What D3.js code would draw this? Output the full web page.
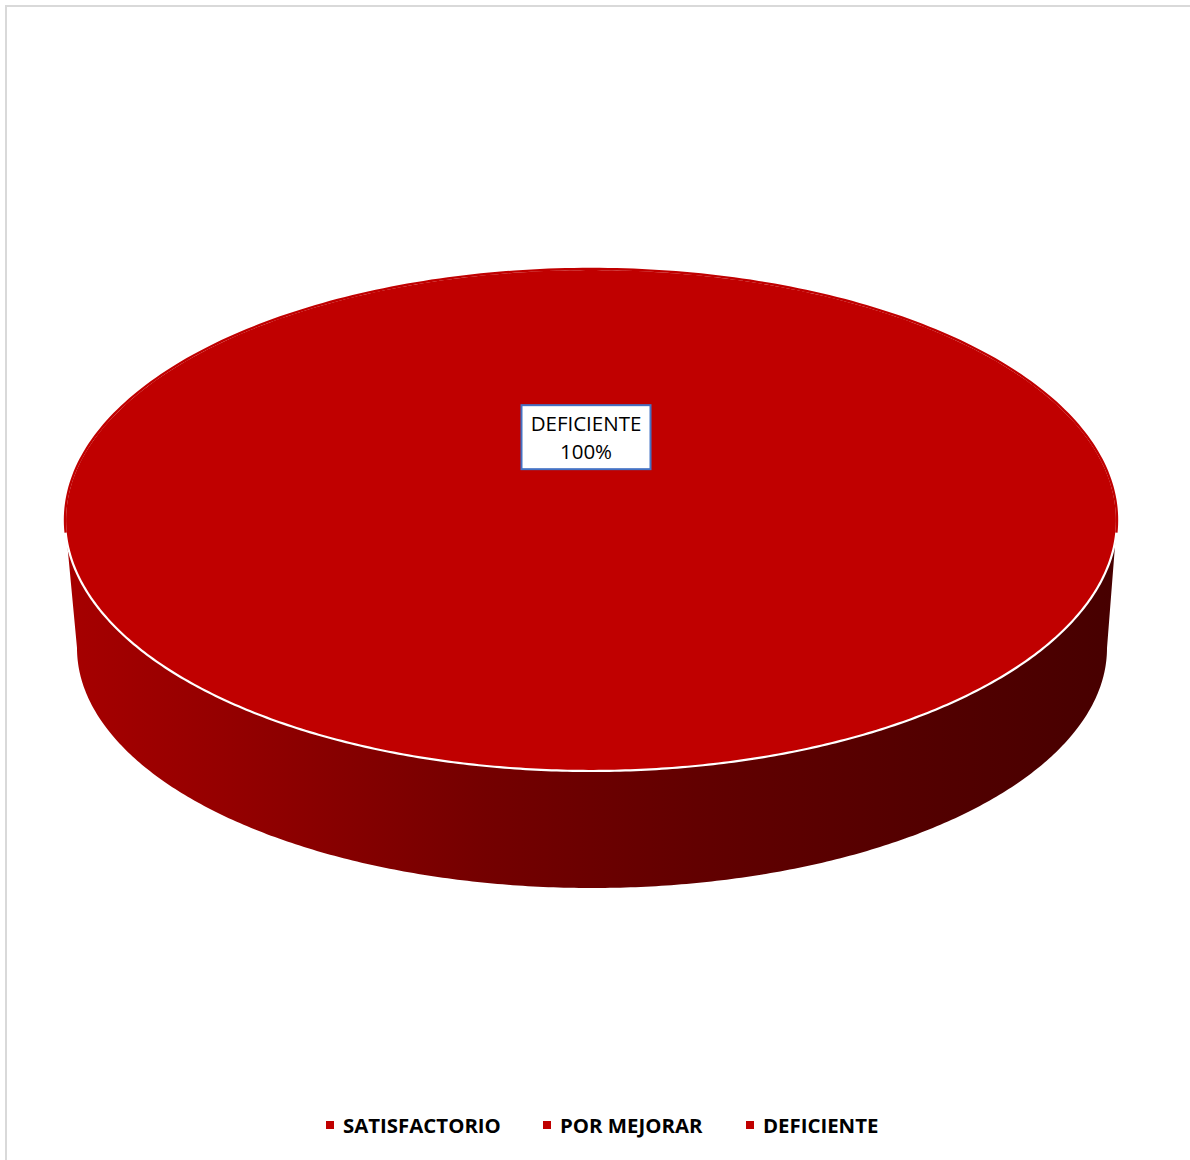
<!DOCTYPE html>
<html>
<head>
<meta charset="utf-8">
<script src="https://cdn.jsdelivr.net/npm/d3@7/dist/d3.min.js"></script>
<style>
  html, body { margin: 0; padding: 0; background: #fff; }
  svg { display: block; }
</style>
</head>
<body>
<svg id="chart" width="1190" height="1160"></svg>
<script>
// Evaluation results
const categories = ["SATISFACTORIO", "POR MEJORAR", "DEFICIENTE"];
const values = [0, 0, 100];
const sliceColors = ["#C00000", "#C00000", "#C00000"];

const W = 1190, H = 1160;
const svg = d3.select("#chart");

// Chart frame
svg.append("rect")
  .attr("x", 6).attr("y", 6)
  .attr("width", W + 10).attr("height", H + 10)
  .attr("fill", "#fff").attr("stroke", "#d9d9d9").attr("stroke-width", 2);

// Tilted pie geometry: top face and a slightly narrower bottom face
const topFace = { cx: 591, cy: 520, rx: 526, ry: 251 };
const botFace = { cx: 592, cy: 648, rx: 515, ry: 240 };

const pie = d3.pie().sort(null).value(d => d)(values);
const total = d3.sum(values);

// Gradient on the pie wall
const defs = svg.append("defs");
const grad = defs.append("linearGradient").attr("id", "wall")
  .attr("x1", "0%").attr("x2", "100%").attr("y1", "0%").attr("y2", "0%");
[[0, "#a60000"], [0.15, "#950000"], [0.4, "#740000"], [0.6, "#620000"], [0.8, "#540000"], [1, "#470000"]]
  .forEach(([o, c]) => grad.append("stop").attr("offset", o).attr("stop-color", c));

// angle a measured from 12 o'clock clockwise (d3.pie convention), projected onto ellipse e
const pt = (e, a) => [e.cx + e.rx * Math.sin(a), e.cy - e.ry * Math.cos(a)];

function facePath(e, a0, a1) {
  const n = Math.max(2, Math.ceil((a1 - a0) / 0.01));
  const pts = d3.range(n + 1).map(i => pt(e, a0 + (a1 - a0) * i / n));
  const full = (a1 - a0) >= 2 * Math.PI - 1e-6;
  return (full ? "M" : "M" + [e.cx, e.cy] + "L") + pts.map(p => p.join(",")).join("L") + "Z";
}

// Visible wall: front half, from 3 o'clock (PI/2) to 9 o'clock (3PI/2), clipped to each slice
function wallPath(a0, a1) {
  const s = Math.max(a0, Math.PI / 2), t = Math.min(a1, 3 * Math.PI / 2);
  if (t <= s) return null;
  const n = Math.ceil((t - s) / 0.01);
  const upper = d3.range(n + 1).map(i => pt(topFace, s + (t - s) * i / n));
  const lower = d3.range(n + 1).map(i => pt(botFace, t - (t - s) * i / n));
  return "M" + upper.concat(lower).map(p => p.join(",")).join("L") + "Z";
}

const slices = pie.filter(d => d.value > 0);

// Walls
svg.append("g").selectAll("path")
  .data(slices)
  .join("path")
  .attr("d", d => wallPath(d.startAngle, d.endAngle))
  .attr("fill", "url(#wall)");

// Top faces
svg.append("g").selectAll("path")
  .data(slices)
  .join("path")
  .attr("d", d => facePath(topFace, d.startAngle, d.endAngle))
  .attr("fill", d => sliceColors[d.index])
  .attr("stroke", "#fff").attr("stroke-width", 2.2);

// Cover the back rim so only the front edge shows a white outline
svg.append("path")
  .attr("d", (() => {
    const n = 200;
    const pts = d3.range(n + 1).map(i => pt(topFace, -Math.PI / 2 - 0.05 + (Math.PI + 0.1) * i / n));
    return "M" + pts.map(p => p.join(",")).join("L");
  })())
  .attr("fill", "none").attr("stroke", "#C00000").attr("stroke-width", 2.4);

// Data labels
const pct = d3.format(".0%");
const lab = svg.append("g").selectAll("g")
  .data(slices)
  .join("g")
  .attr("transform", d => {
    const mid = (d.startAngle + d.endAngle) / 2;
    const full = (d.endAngle - d.startAngle) >= 2 * Math.PI - 1e-6;
    const p = full ? [topFace.cx - 5, topFace.cy - 0.33 * topFace.ry]
                   : pt({ ...topFace, rx: topFace.rx * 0.6, ry: topFace.ry * 0.6 }, mid);
    return `translate(${p[0]},${p[1]})`;
  });
lab.append("rect")
  .attr("x", -64.5).attr("y", -32).attr("width", 129).attr("height", 64)
  .attr("fill", "#fff").attr("stroke", "#4472C4").attr("stroke-width", 2);
lab.append("text")
  .attr("text-anchor", "middle").attr("y", -6)
  .attr("font-family", "'Open Sans', 'Noto Sans', sans-serif").attr("font-size", 20.5)
  .attr("fill", "#000")
  .text(d => categories[d.index]);
lab.append("text")
  .attr("text-anchor", "middle").attr("y", 22)
  .attr("font-family", "'Open Sans', 'Noto Sans', sans-serif").attr("font-size", 20.5)
  .attr("fill", "#000")
  .text(d => pct(d.value / total));

// Legend
const legendX = [326, 543, 746];
const leg = svg.append("g").selectAll("g")
  .data(categories)
  .join("g")
  .attr("transform", (d, i) => `translate(${legendX[i]},1125)`);
leg.append("rect")
  .attr("x", 0).attr("y", -4).attr("width", 8).attr("height", 8)
  .attr("fill", (d, i) => sliceColors[i]);
leg.append("text")
  .attr("x", 17).attr("y", 7.5)
  .attr("font-family", "'Open Sans', 'Noto Sans', sans-serif").attr("font-weight", "bold")
  .attr("font-size", 20.4).attr("fill", "#000")
  .text(d => d);
</script>
</body>
</html>
